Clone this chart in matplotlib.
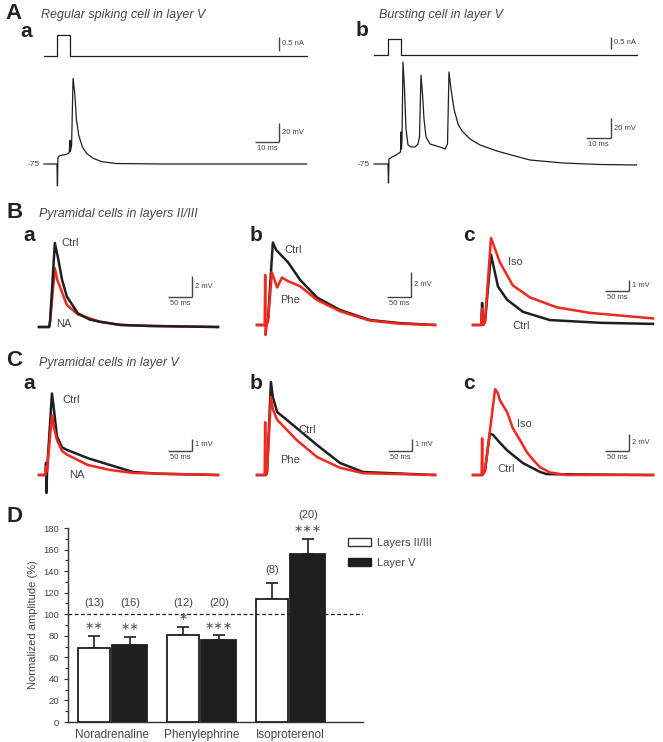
import matplotlib
matplotlib.use('Agg')
import matplotlib.pyplot as plt
from matplotlib.patches import Patch

plt.rcParams['font.family'] = ['Liberation Sans', 'DejaVu Sans']

W, H = 663, 742
GREY = '#444444'
BLK = '#1f1f1f'
RED = '#f0281e'

# ---- A: current steps (ms, nA) and voltage (ms, mV)
AA_I_T = [0, 5.4, 5.4, 10.8, 10.8, 109.5]
AA_I = [0, 0, 0.75, 0.75, 0, 0]
AA_V_T = [0, 5.4, 5.6, 5.8, 6.7, 7.9, 9.2, 10.5, 10.8, 11.0, 11.5, 12.1, 12.8,
          13.5, 14.5, 16.0, 17.8, 20.5, 24, 30, 50, 80, 109.5]
AA_V = [-75, -75, -98, -68, -66, -65.5, -65, -63, -50, -62, -55, 15, 0,
        -28, -45, -57, -64, -69, -72.5, -74.5, -75, -75, -75]

AB_I_T = [0, 5.6, 5.6, 10.8, 10.8, 105]
AB_I = [0, 0, 0.67, 0.67, 0, 0]
AB_V_T = [0, 5.6, 5.8, 6.0, 7.2, 8.8, 10.6, 10.8, 11.0, 11.2, 11.6, 12.2, 12.8,
          13.6, 14.8, 16.4, 17.6, 18.2, 18.8, 19.4, 20, 20.8, 22.4, 26.4, 28.4,
          29.4, 30, 30.8, 32, 33.6, 35.2, 38.4, 42.4, 49.2, 56.4, 62.4, 75.6,
          90.4, 105]
AB_V = [-75, -75, -94, -70, -68, -66, -63, -43, -60, -50, 27, 0, -40,
        -56, -58, -58, -55, -48, 14, -5, -30, -48, -55, -58, -60,
        -55, 17, 0, -20, -35, -42, -50, -56, -62, -67, -71, -74,
        -75.5, -76]

# ---- B: layers II/III (ms, mV above baseline)
BA_CTRL_T = [0, 21, 23, 33, 40, 48, 58, 81, 106, 127, 169, 231, 373]
BA_CTRL = [0, 0, 0.5, 8.0, 6.5, 4.5, 2.9, 1.3, 0.7, 0.5, 0.2, 0.1, 0]
BA_NA_T = [0, 21, 23, 33, 38, 44, 58, 81, 127, 169, 231, 373]
BA_NA = [0, 0, 0.5, 5.6, 4.5, 3.8, 2.1, 1.2, 0.5, 0.2, 0.1, 0]

BB_CTRL_T = [0, 19, 23, 33, 40, 65, 90, 125, 173, 235, 298, 371]
BB_CTRL = [0, 0, 0.5, 6.6, 6.0, 5.0, 3.6, 2.2, 1.2, 0.4, 0.15, 0]
BB_PHE_T = [0, 16, 17, 18, 20, 23, 31, 42, 52, 65, 90, 125, 173, 235, 298, 371]
BB_PHE = [0, 0, 4.0, -0.8, 0, 0.3, 4.2, 3.0, 3.8, 3.5, 3.1, 2.0, 1.1, 0.35, 0.1, 0]

BC_CTRL_T = [0, 17, 19, 21, 25, 37.5, 52, 71, 104, 160, 265, 375]
BC_CTRL = [0, 0, 2.0, 0, 0.3, 6.4, 3.5, 2.3, 1.2, 0.45, 0.2, 0.1]
BC_ISO_T = [0, 17, 19, 21, 25, 37.5, 56, 83, 119, 175, 244, 375]
BC_ISO = [0, 0, 1.5, 0, 0.3, 7.9, 5.7, 3.6, 2.5, 1.6, 1.1, 0.6]

# ---- C: layer V
CA_CTRL_T = [0, 13.5, 14.6, 15.6, 16.7, 27, 31, 37.5, 48, 58, 102, 148, 196, 252, 373]
CA_CTRL = [0, 0, 1.0, -1.5, 0.3, 6.8, 5.5, 3.2, 2.3, 2.1, 1.4, 0.83, 0.25, 0.1, 0]
CA_NA_T = [0, 13.5, 14.6, 16.7, 27, 31, 37.5, 48, 58, 102, 148, 196, 373]
CA_NA = [0, 0, 0.7, 0.3, 5.0, 4.0, 2.9, 2.0, 1.7, 0.83, 0.42, 0.17, 0]

CB_CTRL_T = [0, 19, 21, 29, 33, 42, 83, 125, 173, 221, 371]
CB_CTRL = [0, 0, 0.3, 7.75, 6.5, 5.25, 3.9, 2.5, 1.0, 0.25, 0]
CB_PHE_T = [0, 16, 17, 18, 21, 29, 33, 42, 83, 125, 173, 221, 371]
CB_PHE = [0, 0, 4.4, 0, 0.3, 6.5, 5.5, 4.6, 2.9, 1.5, 0.6, 0.15, 0]

CC_CTRL_T = [0, 19, 21, 25, 35, 42, 56, 71, 104, 140, 154, 375]
CC_CTRL = [0, 0, 0.2, 0.5, 4.9, 4.7, 3.8, 2.9, 1.4, 0.35, 0.1, 0]
CC_ISO_T = [0, 18, 19, 20, 25, 46, 52, 56, 71, 83, 98, 112, 125, 140, 160, 196, 375]
CC_ISO = [0, 0, 4.3, 0, 0.5, 10.1, 9.6, 8.8, 7.4, 5.5, 4.1, 2.7, 1.8, 0.9, 0.3, 0, 0]

# ---- D: summary
DRUGS = ['Noradrenaline', 'Phenylephrine', 'Isoproterenol']
L23_MEAN = [69, 81, 114]
L23_SEM = [11, 7, 15]
L5_MEAN = [71, 76, 156]
L5_SEM = [8, 4.5, 14]
L23_N = ['(13)', '(12)', '(8)']
L5_N = ['(16)', '(20)', '(20)']
L23_SIG = ['∗∗', '∗', '']
L5_SIG = ['∗∗', '∗∗∗', '∗∗∗']

fig = plt.figure(figsize=(W / 100, H / 100), dpi=100)


def ftxt(x, y, s, **kw):
    kw.setdefault('va', 'baseline')
    kw.setdefault('color', GREY)
    fig.text(x / W, 1 - y / H, s, **kw)


def letter(x, y, s):
    fs = 16 if s.isupper() else 15
    ftxt(x, y, s, fontsize=fs, fontweight='bold', color='#222222')


def trace_ax(box, t0_px, base_px, px_ms, px_unit, base=0.0):
    l, t, r, b = box
    ax = fig.add_axes([l / W, 1 - b / H, (r - l) / W, (b - t) / H])
    ax.set_xlim((l - t0_px) / px_ms, (r - t0_px) / px_ms)
    ax.set_ylim(base + (base_px - b) / px_unit, base + (base_px - t) / px_unit)
    ax.axis('off')
    return ax


def scalebar(ax, t, v, dt, dv, tlab, vlab, fs=5.5):
    kw = dict(color=GREY, lw=1, solid_capstyle='butt', clip_on=False)
    if dt:
        ax.plot([t - dt, t], [v, v], **kw)
        ax.annotate(tlab, (t - dt / 2, v), xytext=(0, -2), textcoords='offset points',
                    ha='center', va='top', fontsize=fs, color=GREY)
    ax.plot([t, t], [v, v + dv], **kw)
    ax.annotate(vlab, (t, v + dv / 2), xytext=(2, 0), textcoords='offset points',
                ha='left', va='center', fontsize=fs, color=GREY)


LW = 1.8

# ---------------- A
ax = trace_ax((40, 28, 320, 62), 44, 56, 2.4, 28)
ax.plot(AA_I_T, AA_I, color=BLK, lw=0.9)
scalebar(ax, 97.9, 0.18, 0, 0.5, '', '0.5 nA')
ax = trace_ax((40, 66, 320, 195), 44, 164, 2.4, 0.95, -75)
ax.plot(AA_V_T, AA_V, color=BLK, lw=0.9)
scalebar(ax, 97.9, -51.8, 10, 20, '10 ms', '20 mV')
ax.annotate('-75', (0, -75), xytext=(-3, 0), textcoords='offset points',
            ha='right', va='center', fontsize=6, color=GREY)

ax = trace_ax((370, 28, 650, 62), 374, 55, 2.5, 24)
ax.plot(AB_I_T, AB_I, color=BLK, lw=0.9)
scalebar(ax, 94.8, 0.25, 0, 0.5, '', '0.5 nA')
ax = trace_ax((370, 56, 650, 195), 374, 164, 2.5, 1.0, -75)
ax.plot(AB_V_T, AB_V, color=BLK, lw=0.9)
scalebar(ax, 94.8, -49, 10, 20, '10 ms', '20 mV')
ax.annotate('-75', (0, -75), xytext=(-3, 0), textcoords='offset points',
            ha='right', va='center', fontsize=6, color=GREY)

letter(5, 19, 'A')
letter(20, 37, 'a')
ftxt(41, 18, 'Regular spiking cell in layer V', fontsize=9, style='italic')
letter(356, 36, 'b')
ftxt(379, 18, 'Bursting cell in layer V', fontsize=9, style='italic')

# ---------------- B
ax = trace_ax((30, 225, 235, 345), 39, 327, 0.48, 10.5)
ax.plot(BA_NA_T, BA_NA, color=RED, lw=LW)
ax.plot(BA_CTRL_T, BA_CTRL, color=BLK, lw=LW)
scalebar(ax, 318.75, 2.86, 50, 2, '50 ms', '2 mV')

ax = trace_ax((250, 225, 455, 345), 257, 325, 0.48, 12.5)
ax.plot(BB_CTRL_T, BB_CTRL, color=BLK, lw=LW)
ax.plot(BB_PHE_T, BB_PHE, color=RED, lw=LW)
scalebar(ax, 320.8, 2.24, 50, 2, '50 ms', '2 mV')

ax = trace_ax((465, 225, 663, 345), 473, 325, 0.48, 11)
ax.plot(BC_CTRL_T, BC_CTRL, color=BLK, lw=LW)
ax.plot(BC_ISO_T, BC_ISO, color=RED, lw=LW)
scalebar(ax, 325, 3.09, 50, 1, '50 ms', '1 mV')

letter(6, 218, 'B')
ftxt(39, 217, 'Pyramidal cells in layers II/III', fontsize=9, style='italic')
letter(23, 241, 'a')
letter(250, 241, 'b')
letter(463, 241, 'c')
ftxt(61, 246, 'Ctrl', fontsize=8)
ftxt(56, 327, 'NA', fontsize=8)
ftxt(284, 253, 'Ctrl', fontsize=8)
ftxt(280, 303, 'Phe', fontsize=8)
ftxt(508, 265, 'Iso', fontsize=8)
ftxt(512, 329, 'Ctrl', fontsize=8)

# ---------------- C
ax = trace_ax((30, 375, 235, 500), 39, 475, 0.48, 12)
ax.plot(CA_CTRL_T, CA_CTRL, color=BLK, lw=LW)
ax.plot(CA_NA_T, CA_NA, color=RED, lw=LW)
scalebar(ax, 318.75, 2.0, 50, 1, '50 ms', '1 mV')

ax = trace_ax((250, 375, 455, 500), 257, 475, 0.48, 12)
ax.plot(CB_CTRL_T, CB_CTRL, color=BLK, lw=LW)
ax.plot(CB_PHE_T, CB_PHE, color=RED, lw=LW)
scalebar(ax, 322.9, 2.0, 50, 1, '50 ms', '1 mV')

ax = trace_ax((465, 375, 663, 500), 473, 475, 0.48, 8.5)
ax.plot(CC_CTRL_T, CC_CTRL, color=BLK, lw=LW)
ax.plot(CC_ISO_T, CC_ISO, color=RED, lw=LW)
scalebar(ax, 325, 2.82, 50, 2, '50 ms', '2 mV')

letter(6, 366, 'C')
ftxt(39, 366, 'Pyramidal cells in layer V', fontsize=9, style='italic')
letter(23, 389, 'a')
letter(250, 389, 'b')
letter(463, 389, 'c')
ftxt(62, 403, 'Ctrl', fontsize=8)
ftxt(69, 478, 'NA', fontsize=8)
ftxt(298, 433, 'Ctrl', fontsize=8)
ftxt(280, 463, 'Phe', fontsize=8)
ftxt(517, 427, 'Iso', fontsize=8)
ftxt(497, 472, 'Ctrl', fontsize=8)

# ---------------- D
ax = fig.add_axes([68 / W, 20 / H, 295 / W, 194 / H])
x = [1, 2, 3]
xw = [i - 0.21 for i in x]
xb = [i + 0.195 for i in x]
ax.bar(xw, L23_MEAN, 0.36, color='white', edgecolor=BLK, lw=1.3, zorder=2)
ax.bar(xb, L5_MEAN, 0.39, color=BLK, edgecolor=BLK, lw=1.3, zorder=2)
ax.errorbar(xw, L23_MEAN, yerr=[[0] * 3, L23_SEM], fmt='none', ecolor=BLK,
            elinewidth=1.2, capsize=4.3, capthick=1.2, zorder=1)
ax.errorbar(xb, L5_MEAN, yerr=[[0] * 3, L5_SEM], fmt='none', ecolor=BLK,
            elinewidth=1.2, capsize=4.3, capthick=1.2, zorder=1)
ax.axhline(100, color=BLK, lw=0.9, ls=(0, (3, 2)), zorder=3)

for xs, m, e, n, s in [(xw, L23_MEAN, L23_SEM, L23_N, L23_SIG),
                       (xb, L5_MEAN, L5_SEM, L5_N, L5_SIG)]:
    for i in range(3):
        top = m[i] + e[i]
        if s[i]:
            ax.text(xs[i], top + 9, s[i], ha='center', va='center',
                    fontsize=8, color='#555555', family=['DejaVu Sans'])
        ny = max(110, top + (22 if s[i] else 12))
        ax.text(xs[i], ny, n[i], ha='center', va='center', fontsize=8, color=GREY)

ax.set_xlim(0.5, 3.815)
ax.set_ylim(0, 180)
ax.set_yticks(range(0, 181, 20))
ax.set_yticks(range(0, 181, 10), minor=True)
ax.set_xticks(x)
ax.set_xticklabels(DRUGS, fontsize=8.5, color=GREY)
ax.tick_params(axis='x', length=0, pad=5)
ax.tick_params(axis='y', labelsize=6.8, labelcolor=GREY, length=3, width=0.8, color='#333333')
ax.tick_params(axis='y', which='minor', length=2, width=0.8, color='#333333')
ax.set_ylabel('Normalized amplitude (%)', fontsize=8, color=GREY, labelpad=4)
for sp in ['top', 'right']:
    ax.spines[sp].set_visible(False)
for sp in ['left', 'bottom']:
    ax.spines[sp].set_color('#333333')
    ax.spines[sp].set_linewidth(1)

handles = [Patch(facecolor='white', edgecolor='#333333', lw=1),
           Patch(facecolor=BLK, edgecolor=BLK, lw=1)]
ax.legend(handles, ['Layers II/III', 'Layer V'], loc='upper left',
          bbox_to_anchor=(348 / W, 1 - 538 / H), bbox_transform=fig.transFigure,
          frameon=False, fontsize=8, handlelength=2.1, handleheight=0.75,
          labelspacing=0.9, handletextpad=0.5, borderpad=0, borderaxespad=0,
          labelcolor=GREY)

letter(6, 522, 'D')

fig.savefig('out.png', dpi=100)
